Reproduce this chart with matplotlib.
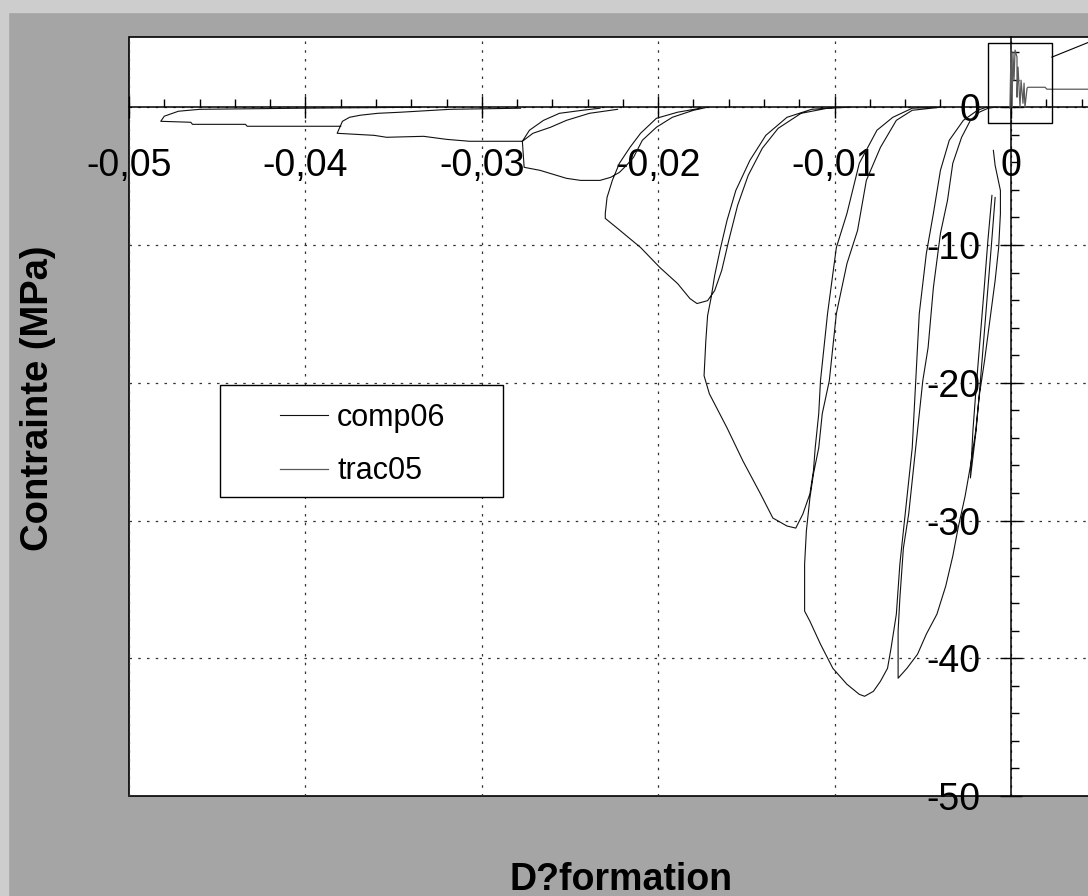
import numpy as np
import matplotlib.pyplot as plt
from matplotlib.patches import Rectangle
from matplotlib.ticker import MultipleLocator

plt.rcParams['font.family'] = ['Liberation Sans', 'DejaVu Sans']

# comp06 : cyclic compression loops (strain, stress MPa)
loopA_x = [-0.0335, -0.0403, -0.0460, -0.0472, -0.0480, -0.0482, -0.0465, -0.0464, -0.0434, -0.0433, -0.0380]
loopA_y = [0.0, -0.07, -0.15, -0.29, -0.65, -1.02, -1.09, -1.24, -1.24, -1.38, -1.38]

loopB_x = [-0.0278, -0.0318, -0.0346, -0.0359, -0.0369, -0.0375, -0.0379, -0.0382, -0.0361, -0.0354,
           -0.0333, -0.0320, -0.0307, -0.0277]
loopB_y = [-0.07, -0.15, -0.36, -0.44, -0.58, -0.73, -1.02, -1.89, -2.04, -2.18, -2.11, -2.33, -2.47, -2.47]

loopC1_x = [-0.0233, -0.0243, -0.0256, -0.0265, -0.0273, -0.0277]
loopC1_y = [-0.07, -0.22, -0.44, -0.95, -1.67, -2.47]

loopC2_x = [-0.0223, -0.0239, -0.0252, -0.0261, -0.0271, -0.0277, -0.0276, -0.0267, -0.0252, -0.0244,
            -0.0233, -0.0227, -0.0222, -0.0218, -0.0214, -0.0209, -0.0201, -0.0192, -0.0180, -0.0172]
loopC2_y = [-0.15, -0.44, -0.95, -1.45, -1.89, -2.47, -4.36, -4.58, -5.16, -5.31,
            -5.31, -5.09, -4.73, -4.22, -3.64, -2.40, -1.45, -0.73, -0.22, 0.0]

loopD_x = [-0.0176, -0.0189, -0.0201, -0.0210, -0.0216, -0.0222, -0.0226, -0.0229, -0.0230, -0.0230,
           -0.0223, -0.0210, -0.0199, -0.0189, -0.0182, -0.0178, -0.0172, -0.0168, -0.0164, -0.0160,
           -0.0155, -0.0149, -0.0141, -0.0132, -0.0119, -0.0104, -0.0091]
loopD_y = [-0.07, -0.36, -0.80, -1.89, -2.91, -4.07, -5.31, -6.55, -7.71, -8.07,
           -8.80, -10.18, -11.64, -12.80, -13.89, -14.25, -14.04, -13.31, -11.85, -9.67,
           -7.13, -4.95, -2.98, -1.53, -0.44, -0.07, 0.0]

loopE_x = [-0.0098, -0.0113, -0.0127, -0.0139, -0.0148, -0.0156, -0.0161, -0.0165, -0.0168, -0.0170,
           -0.0172, -0.0173, -0.0174, -0.0171, -0.0161, -0.0152, -0.0142, -0.0135, -0.0127, -0.0122,
           -0.0118, -0.0114, -0.0112, -0.0111, -0.0109, -0.0108, -0.0104, -0.0099, -0.0093, -0.0086,
           -0.0076, -0.0067, -0.0056, -0.0043]
loopE_y = [0.0, -0.15, -0.73, -2.04, -3.85, -6.04, -8.22, -10.40, -12.22, -13.82,
           -15.13, -16.95, -19.49, -20.80, -23.27, -25.67, -28.07, -29.82, -30.40, -30.55,
           -29.53, -28.07, -26.40, -24.73, -22.25, -19.85, -14.98, -10.18, -7.71, -4.07,
           -1.67, -0.73, -0.07, 0.0]

loopF_x = [-0.0040, -0.0056, -0.0065, -0.0074, -0.0082, -0.0087, -0.0093, -0.0099, -0.0103, -0.0107,
           -0.0109, -0.0112, -0.0114, -0.0116, -0.0117, -0.0117, -0.0114, -0.0108, -0.0101, -0.0093,
           -0.0086, -0.0083, -0.0078, -0.0074, -0.0070, -0.0068, -0.0065, -0.0063, -0.0061, -0.0059,
           -0.0056, -0.0054, -0.0052, -0.0048, -0.0044, -0.0040, -0.0035, -0.0027, -0.0019, -0.0014]
loopF_y = [0.0, -0.22, -0.95, -2.91, -5.31, -8.95, -11.35, -14.98, -19.85, -22.25,
           -24.73, -26.62, -28.36, -30.76, -33.16, -36.58, -37.31, -38.98, -40.73, -41.89,
           -42.62, -42.76, -42.40, -41.67, -40.73, -39.27, -36.80, -33.16, -30.76, -28.36,
           -24.73, -19.85, -14.98, -10.62, -7.71, -4.58, -2.40, -0.95, -0.22, 0.0]

loopG_x = [-0.0009, -0.0013, -0.0018, -0.0023, -0.0028, -0.0033, -0.0036, -0.0040, -0.0044, -0.0047,
           -0.0050, -0.0053, -0.0056, -0.0058, -0.0061, -0.0063, -0.0064, -0.0064, -0.0059, -0.0053,
           -0.0048, -0.0042, -0.0037, -0.0033, -0.0030, -0.0026, -0.0023, -0.0020, -0.0018, -0.0015,
           -0.0012, -0.0009, -0.0007, -0.0006, -0.0006, -0.0009, -0.0010]
loopG_y = [0.0, -0.07, -0.36, -0.95, -2.18, -4.07, -6.76, -9.16, -13.09, -17.45,
           -19.85, -23.49, -27.13, -29.53, -32.00, -35.64, -38.04, -41.45, -40.73, -39.71,
           -38.25, -36.80, -34.76, -32.58, -30.55, -28.22, -26.04, -23.49, -20.95, -18.40,
           -15.49, -12.58, -10.18, -7.71, -6.04, -4.22, -3.13]

loopH_x = [-0.00108, -0.00131, -0.00153, -0.00176, -0.00199, -0.00216, -0.00230,
           -0.00198, -0.00178, -0.00155, -0.00132, -0.00109, -0.00090]
loopH_y = [-6.40, -9.67, -13.31, -16.95, -20.58, -23.49, -26.91,
           -23.49, -20.58, -16.95, -13.31, -9.67, -6.55]

# trac05 : tension test, near the origin
trac_x = [-0.00006, 0.0, 0.00006, 0.00011, 0.00017, 0.00023, 0.00034, 0.00034, 0.00040, 0.00051,
          0.00057, 0.00068, 0.00074, 0.00079, 0.00091, 0.00096, 0.00119, 0.00193, 0.00204, 0.0120]
trac_y = [-0.07, 4.15, 0.0, 4.0, 1.96, 4.15, 3.64, 0.73, 2.91, 0.0,
          1.96, 0.29, 1.75, 0.0, 1.38, 1.45, 1.45, 1.45, 1.31, 1.31]

xticks = [-0.05, -0.04, -0.03, -0.02, -0.01, 0.0]
xticklabels = ["-0,05", "-0,04", "-0,03", "-0,02", "-0,01", "0"]
yticks = [-50, -40, -30, -20, -10, 0]
yticklabels = ["-50", "-40", "-30", "-20", "-10", "0"]

# zoom box drawn round the origin in the original chart
zoom_box = (-0.0013, -1.16, 0.00362, 5.81)
zoom_link_x = [0.00232, 0.0065]
zoom_link_y = [3.64, 5.8]

loops = [(loopA_x, loopA_y), (loopB_x, loopB_y), (loopC1_x, loopC1_y), (loopC2_x, loopC2_y),
         (loopD_x, loopD_y), (loopE_x, loopE_y), (loopF_x, loopF_y), (loopG_x, loopG_y),
         (loopH_x, loopH_y)]
comp_x = np.concatenate([np.r_[lx, np.nan] for lx, ly in loops])
comp_y = np.concatenate([np.r_[ly, np.nan] for lx, ly in loops])

fig = plt.figure(figsize=(10.88, 8.96), dpi=100, facecolor='#a5a5a5')
fig.patches.append(Rectangle((0, 1 - 12/896), 1, 12/896, transform=fig.transFigure,
                             color='#cdcdcd', zorder=0))
fig.patches.append(Rectangle((0, 0), 8/1088, 1, transform=fig.transFigure,
                             color='#cdcdcd', zorder=0))

ax = fig.add_axes([129/1088, 1 - 796/896, 1058.4/1088, 759/896])
ax.set_facecolor('white')
ax.patch.set_edgecolor('black')
ax.patch.set_linewidth(1.2)

ax.plot(comp_x, comp_y, color='#111111', lw=0.8, label='comp06', zorder=4)
ax.plot(trac_x, trac_y, color='#5a5a5a', lw=0.9, label='trac05', zorder=4)

ax.add_patch(Rectangle(zoom_box[:2], zoom_box[2], zoom_box[3], fill=False, ec='black', lw=1, zorder=5))
ax.plot(zoom_link_x, zoom_link_y, color='black', lw=0.8, zorder=5)

ax.set_xlim(-0.05, 0.01)
ax.set_ylim(-50, 5.1)

for s in ['top', 'right']:
    ax.spines[s].set_visible(False)
ax.spines['left'].set_position(('data', 0))
ax.spines['bottom'].set_position(('data', 0))
ax.spines['left'].set_linewidth(1.1)
ax.spines['bottom'].set_linewidth(1.1)
ax.spines['left'].set_zorder(3)
ax.spines['bottom'].set_zorder(3)

ax.set_xticks(xticks)
ax.set_xticklabels(xticklabels)
ax.set_yticks(yticks)
ax.set_yticklabels(yticklabels)
ax.xaxis.set_minor_locator(MultipleLocator(0.002))
ax.yaxis.set_minor_locator(MultipleLocator(2))
ax.tick_params(which='major', direction='inout', length=16, width=1, labelsize=27)
ax.tick_params(axis='x', which='major', pad=21)
ax.tick_params(axis='y', which='major', pad=14)
ax.tick_params(which='minor', direction='in', length=6, width=1)

ax.grid(True, which='major', ls=(0, (2, 5)), color='#333333', lw=0.9)
ax.set_axisbelow(True)

ax.add_patch(Rectangle((0.086, 0.394), 0.2674, 0.1475, transform=ax.transAxes,
                       fc='white', ec='black', lw=1, zorder=6))
ax.legend(loc='upper left', bbox_to_anchor=(0.1427, 0.5178), frameon=False, borderpad=0,
          borderaxespad=0, handlelength=1.57, handletextpad=0.3, labelspacing=0.76,
          fontsize=22).set_zorder(7)

fig.text(621/1088, 1 - 880/896, 'D?formation', ha='center', va='center',
         fontsize=27, fontweight='bold')
fig.text(38/1088, 1 - 398/896, 'Contrainte (MPa)', rotation=90, ha='center', va='center',
         fontsize=27.5, fontweight='bold')

fig.savefig('out.png', dpi=100, facecolor=fig.get_facecolor())
